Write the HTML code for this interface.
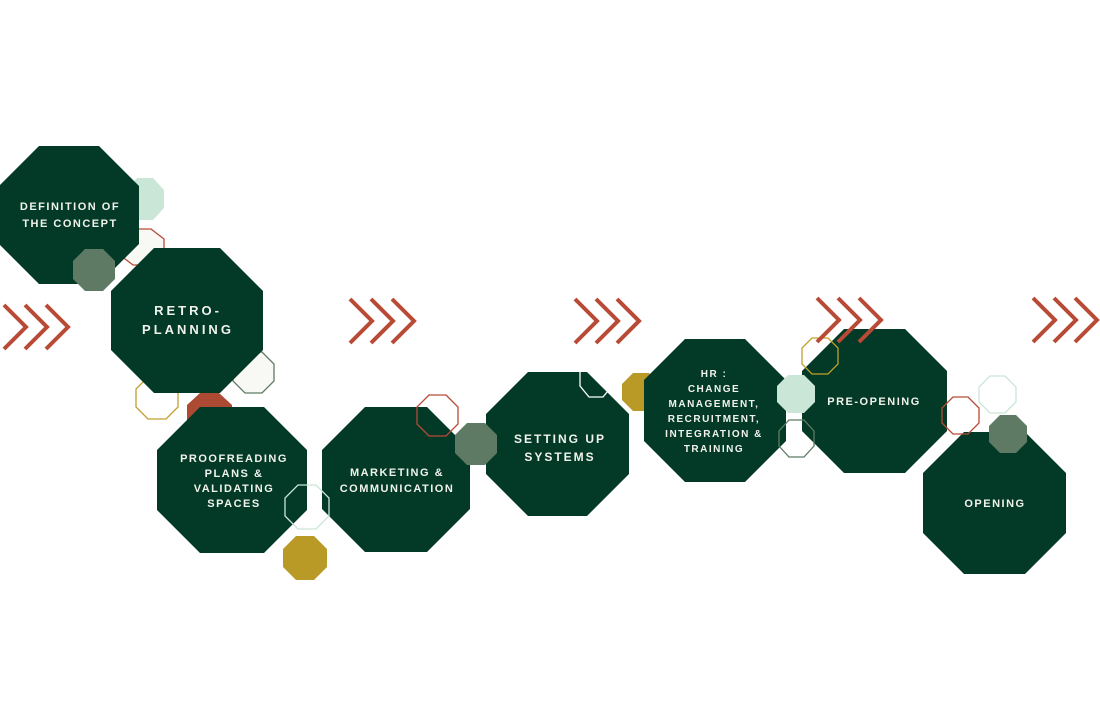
<!DOCTYPE html>
<html><head><meta charset="utf-8"><style>
html,body{margin:0;padding:0;background:#fff;}
svg{display:block;}
text{font-family:"Liberation Sans",sans-serif;fill:#f2f2ec;font-weight:bold;text-anchor:middle;}
</style></head><body>
<svg width="1100" height="726" viewBox="0 0 1100 726" xmlns="http://www.w3.org/2000/svg">
<rect width="1100" height="726" fill="#fff"/>
<!-- behind small shapes -->
<polygon points="137,178 153,178 164,190 164,208 153,220 137,220 126,208 126,190" fill="#c9e6d6"/>
<polygon points="133,229 151,229 164,239 164,255 151,265 133,265 120,255 120,239" fill="#f8f8f4" stroke="#b84a36" stroke-width="1.3"/>
<polygon points="245,352 262,352 274,364 274,381 262,393 245,393 233,381 233,364" fill="#f8f8f4" stroke="#5e7a64" stroke-width="1.3"/>
<polygon points="148,377 166,377 178,389 178,407 166,419 148,419 136,407 136,389" fill="none" stroke="#c2a02c" stroke-width="1.3"/>
<polygon points="200,393 219,393 232,405 232,421 219,433 200,433 187,421 187,405" fill="#ad4a33"/>
<polygon points="633,373 649,373 660,384 660,400 649,411 633,411 622,400 622,384" fill="#b99a26"/>
<!-- big octagons -->
<g fill="#023a27">
<polygon points="39,146 99,146 139,186 139,244 99,284 39,284 -1,244 -1,186"/>
<polygon points="154,248 220,248 263,291 263,350 220,393 154,393 111,350 111,291"/>
<polygon points="200,407 264,407 307,450 307,510 264,553 200,553 157,510 157,450"/>
<polygon points="365,407 427,407 470,450 470,509 427,552 365,552 322,509 322,450"/>
<polygon points="528,372 587,372 629,414 629,474 587,516 528,516 486,474 486,414"/>
<polygon points="685,339 745,339 786,380 786,441 745,482 685,482 644,441 644,380"/>
<polygon points="844,329 905,329 947,371 947,431 905,473 844,473 802,431 802,371"/>
<polygon points="964,432 1025,432 1066,473 1066,533 1025,574 964,574 923,533 923,473"/>
</g>
<!-- front small shapes -->
<polygon points="85,249 103,249 115,261 115,279 103,291 85,291 73,279 73,261" fill="#5e7a64"/>
<polygon points="298,485 316,485 329,498 329,516 316,529 298,529 285,516 285,498" fill="none" stroke="#c9e6d6" stroke-width="1.3"/>
<polygon points="296,536 314,536 327,549 327,567 314,580 296,580 283,567 283,549" fill="#b99a26"/>
<polygon points="429,395 446,395 458,407 458,424 446,436 429,436 417,424 417,407" fill="none" stroke="#b84a36" stroke-width="1.3"/>
<polygon points="467,423 485,423 497,435 497,453 485,465 467,465 455,453 455,435" fill="#5e7a64"/>
<polygon points="589,360 603,360 612,371 612,386 603,397 589,397 580,386 580,371" fill="none" stroke="#ffffff" stroke-width="1.3"/>
<polygon points="788,375 804,375 815,386 815,402 804,413 788,413 777,402 777,386" fill="#c9e6d6"/>
<polygon points="789,420 804,420 814,431 814,446 804,457 789,457 779,446 779,431" fill="none" stroke="#5e7a64" stroke-width="1.3"/>
<polygon points="812,338 828,338 838,348 838,364 828,374 812,374 802,364 802,348" fill="none" stroke="#c2a02c" stroke-width="1.3"/>
<polygon points="953,397 968,397 979,408 979,423 968,434 953,434 942,423 942,408" fill="none" stroke="#b84a36" stroke-width="1.3"/>
<polygon points="990,376 1005,376 1016,387 1016,402 1005,413 990,413 979,402 979,387" fill="none" stroke="#c9e6d6" stroke-width="1.3"/>
<polygon points="1000,415 1016,415 1027,426 1027,442 1016,453 1000,453 989,442 989,426" fill="#5e7a64"/>
<!-- chevrons -->
<g fill="none" stroke="#b84a36" stroke-width="4">
<g transform="translate(4,305)"><polyline points="0,0 22,22 0,44"/><polyline points="21,0 43,22 21,44"/><polyline points="42,0 64,22 42,44"/></g>
<g transform="translate(350,299)"><polyline points="0,0 22,22 0,44"/><polyline points="21,0 43,22 21,44"/><polyline points="42,0 64,22 42,44"/></g>
<g transform="translate(575,299)"><polyline points="0,0 22,22 0,44"/><polyline points="21,0 43,22 21,44"/><polyline points="42,0 64,22 42,44"/></g>
<g transform="translate(817,298)"><polyline points="0,0 22,22 0,44"/><polyline points="21,0 43,22 21,44"/><polyline points="42,0 64,22 42,44"/></g>
<g transform="translate(1033,298)"><polyline points="0,0 22,22 0,44"/><polyline points="21,0 43,22 21,44"/><polyline points="42,0 64,22 42,44"/></g>
</g>
<!-- labels -->
<g font-size="11" letter-spacing="1.5">
<text x="70" y="210">DEFINITION OF</text>
<text x="70" y="227">THE CONCEPT</text>
<text x="188" y="315" font-size="13" letter-spacing="3">RETRO-</text>
<text x="188" y="334" font-size="13" letter-spacing="3">PLANNING</text>
<text x="234" y="462">PROOFREADING</text>
<text x="234" y="477">PLANS &amp;</text>
<text x="234" y="492">VALIDATING</text>
<text x="234" y="507">SPACES</text>
<text x="397" y="476" font-weight="normal">MARKETING &amp;</text>
<text x="397" y="492" font-weight="normal">COMMUNICATION</text>
<text x="560" y="443" font-size="12" letter-spacing="2">SETTING UP</text>
<text x="560" y="461" font-size="12" letter-spacing="2">SYSTEMS</text>
<text x="714" y="377" font-size="10">HR :</text>
<text x="714" y="392" font-size="10">CHANGE</text>
<text x="714" y="407" font-size="10">MANAGEMENT,</text>
<text x="714" y="422" font-size="10">RECRUITMENT,</text>
<text x="714" y="437" font-size="10">INTEGRATION &amp;</text>
<text x="714" y="452" font-size="10">TRAINING</text>
<text x="874" y="405">PRE-OPENING</text>
<text x="995" y="507">OPENING</text>
</g>
</svg>
</body></html>
